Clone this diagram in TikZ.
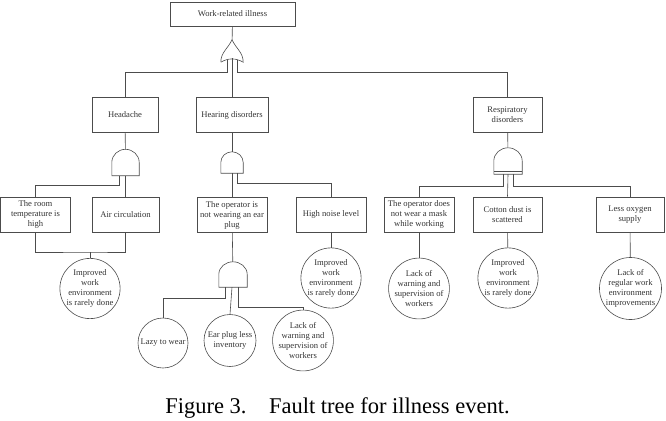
\documentclass[tikz,border=0pt]{standalone}
\usepackage{fontspec}
\setmainfont{Liberation Serif}
\usetikzlibrary{positioning}

\tikzset{
  ev/.style={draw=black!70, line width=0.6pt, minimum width=70, minimum height=35,
    inner sep=0pt, align=center, text=black!80, font=\fontsize{8.6}{10}\selectfont},
  basic/.style={draw=black!70, line width=0.6pt, circle, minimum size=54, inner sep=0pt,
    align=center, text=black!80, font=\fontsize{8.6}{10}\selectfont},
  gate/.style={draw=none, inner sep=0pt, minimum width=27, minimum height=26},
  wire/.style={draw=black!70, line width=0.6pt},
}

% gate outlines drawn on an empty node
\newcommand{\andshape}[1]{%
  \draw[wire] (#1.south west) -- (#1.west) to[out=90,in=180] (#1.north)
    to[out=0,in=90] (#1.east) -- (#1.south east) -- cycle;}
\newcommand{\orshape}[1]{%
  \draw[wire] (#1.south west) to[out=90,in=-115] (#1.north)
    to[out=-65,in=90] (#1.south east) to[out=150,in=30] (#1.south west);}

\begin{document}
\begin{tikzpicture}[x=1pt,y=1pt]
  \useasboundingbox (0,0) rectangle (666,-420);

  % events
  \node[ev, minimum width=125, minimum height=24] (top) at (232.5,-14) {Work-related illness};
  \node[ev, minimum width=66] (hd) at (125,-114.5) {Headache};
  \node[ev, minimum width=72] (hr) at (232,-115) {Hearing disorders};
  \node[ev, minimum width=69] (rs) at (507.5,-114.5) {Respiratory\\disorders};

  \node[ev] (rt) at (35.5,-214.5) {The room\\temperature is\\high};
  \node[ev, minimum width=67] (ac) at (125.5,-214.5) {Air circulation};
  \node[ev] (op) at (232,-215) {The operator is\\not wearing an ear\\plug};
  \node[ev] (hn) at (331,-214.5) {High noise level};
  \node[ev] (mk) at (419,-214.5) {The operator does\\not wear a mask\\while working};
  \node[ev, minimum width=69] (cd) at (507.5,-214.5) {Cotton dust is\\scattered};
  \node[ev, minimum width=68] (ox) at (630,-214.5) {Less oxygen\\supply};

  % basic events
  \node[basic, minimum size=53] (im1) at (90,-288.5) {Improved\\work\\environment\\is rarely done};
  \node[basic, minimum size=50] (lz) at (163,-343) {Lazy to wear};
  \node[basic, minimum size=52] (ep) at (230,-340.5) {Ear plug less\\inventory};
  \node[basic] (lk1) at (303,-340.5) {Lack of\\warning and\\supervision of\\workers};
  \node[basic, minimum size=52] (im2) at (331,-278) {Improved\\work\\environment\\is rarely done};
  \node[basic] (lk2) at (419,-288.5) {Lack of\\warning and\\supervision of\\workers};
  \node[basic, minimum size=52] (im3) at (508,-278) {Improved\\work\\environment\\is rarely done};
  \node[basic] (lk3) at (630.5,-288.5) {Lack of\\regular work\\environment\\improvements};

  % gates
  \node[gate, minimum width=22, minimum height=22] (g0) at (232,-51) {};
  \node[gate] (g1) at (125.5,-162.5) {};
  \node[gate, minimum width=22, minimum height=21] (g2) at (232,-162.5) {};
  \node[gate, minimum width=28] (g3) at (508,-161) {};
  \node[gate, minimum width=28, minimum height=25] (g4) at (233,-274.5) {};
  \orshape{g0}
  \andshape{g1}
  \andshape{g2}
  \andshape{g3}
  \andshape{g4}
  \draw[wire] ([yshift=3]g3.south west) -- ([yshift=3]g3.south east);

  % connectors
  \draw[wire] (top) -- (g0);
  \draw[wire] ([xshift=-5,yshift=2]g0.south) -- ++(0,-12) -| (hd.north);
  \draw[wire] ([xshift=5,yshift=2]g0.south) -- ++(0,-12) -| (rs.north);
  \draw[wire] ([yshift=4]g0.south) -- (hr.north);

  \draw[wire] (hd) -- (g1);
  \draw[wire] ([xshift=-6]g1.south) -- ++(0,-10) -| (rt.north);
  \draw[wire] (g1.south) -- (ac.north);
  \coordinate (j1) at (90,-252);
  \draw[wire] (rt.south) |- (j1) -| (ac.south);
  \draw[wire] (j1) -- (im1.north);

  \draw[wire] (hr) -- (g2);
  \draw[wire] (g2.south) -- (op.north);
  \draw[wire] ([xshift=5]g2.south) -- ++(0,-10) -| (hn.north);
  \draw[wire] (hn) -- (im2);

  \draw[wire] (op) -- (g4);
  \draw[wire] ([xshift=-8]g4.south) -- ++(0,-11) -| (lz.north);
  \draw[wire] ([xshift=-1]g4.south) -- (ep.north);
  \draw[wire] ([xshift=5]g4.south) -- ++(0,-20) -| (lk1.north);

  \draw[wire] (rs) -- (g3);
  \draw[wire] ([xshift=-5]g3.south) -- ++(0,-12) -| (mk.north);
  \draw[wire] (g3.south) -- (cd.north);
  \draw[wire] ([xshift=5]g3.south) -- ++(0,-12) -| (ox.north);
  \draw[wire] (mk) -- (lk2);
  \draw[wire] (cd) -- (im3);
  \draw[wire] (ox) -- (lk3);

  % caption
  \node[font=\fontsize{22.5}{25}\selectfont, anchor=base] (cap) at (337.5,-413)
    {Figure 3.\quad Fault tree for illness event.};
\end{tikzpicture}
\end{document}
